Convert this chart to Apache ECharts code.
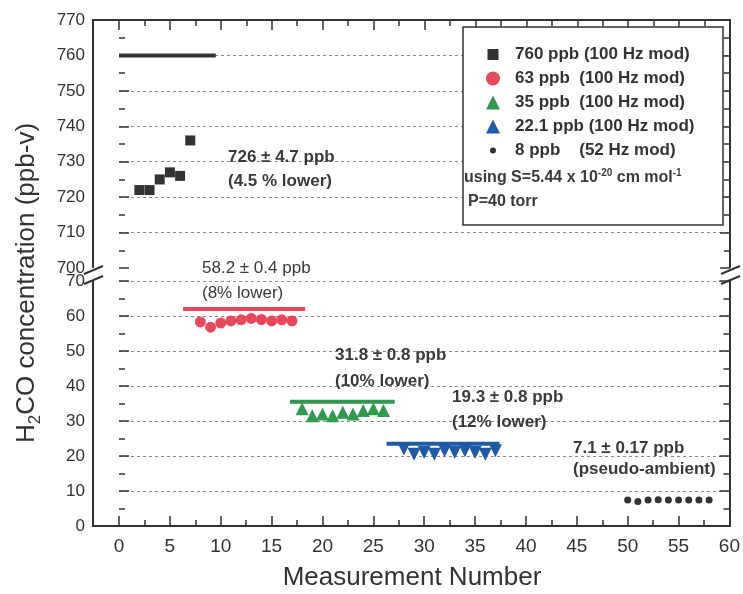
<!DOCTYPE html>
<html lang="en">
<head>
<meta charset="UTF-8">
<title>H2CO concentration</title>
<script src="https://cdnjs.cloudflare.com/ajax/libs/echarts/6.0.0/echarts.min.js"></script>
</head>
<body style="margin:0;background:#fff">
<div id="chart" style="width:743px;height:594px;"></div>
<script>
// measurement number / concentration for each calibration run
var x760 = [2, 3, 4, 5, 6, 7]
var y760 = [722, 722, 725, 727, 726, 736]
var x63 = [8, 9, 10, 11, 12, 13, 14, 15, 16, 17]
var y63 = [58.3, 56.8, 58.0, 58.6, 58.9, 59.3, 59.0, 58.6, 58.9, 58.6]
var x35 = [18, 19, 20, 21, 22, 23, 24, 25, 26]
var y35 = [33.5, 31.5, 32, 31.5, 32.5, 32, 33, 33.5, 33]
var x22 = [28, 29, 30, 31, 32, 33, 34, 35, 36, 37]
var y22 = [22, 20.5, 21, 20.5, 21.5, 21, 21.5, 21, 20.5, 21.5]
var x8 = [50, 51, 52, 53, 54, 55, 56, 57, 58]
var y8 = [7.4, 7.0, 7.4, 7.5, 7.4, 7.4, 7.4, 7.4, 7.4]
// nominal (expected) levels drawn as thick lines
var refStart = [0, 6.3, 16.8, 26.3]
var refEnd = [9.5, 18.3, 27.1, 37.4]
var refLevel = [760, 62, 35.5, 23.5]
var seriesNames = ['760 ppb (100 Hz mod)', '63 ppb  (100 Hz mod)', '35 ppb  (100 Hz mod)', '22.1 ppb (100 Hz mod)', '8 ppb    (52 Hz mod)']

var chart = echarts.init(document.getElementById('chart'))

function zip(xs, ys) {
    return xs.map(function (x, i) { return [x, ys[i]] })
}

var ink = '#333'
var cRed = '#e8485c', cGreen = '#2f9a4c', cBlue = '#1e5aa6'

var tickCommon = {
    axisLine: { show: false },
    axisTick: { show: true, inside: true, length: 10, lineStyle: { color: ink, width: 1.5 } },
    minorTick: { show: true, splitNumber: 2, length: 6, lineStyle: { color: ink, width: 1.5 } }
}

function yAx(grid, pos, min, max, labels) {
    return Object.assign({
        type: 'value', gridIndex: grid, position: pos, min: min, max: max, interval: 10,
        offset: pos === 'left' ? 26 : 0,
        axisLabel: { show: labels, fontSize: 17, color: ink, margin: 8, fontFamily: 'Liberation Sans' },
        splitLine: {
            show: labels, showMinLine: false, showMaxLine: grid === 1,
            lineStyle: { color: '#8a8a8a', type: [3, 3], width: 1 }
        }
    }, tickCommon)
}

function xAx(grid, pos, labels) {
    return Object.assign({
        type: 'value', gridIndex: grid, position: pos, min: 0, max: 60, interval: 5,
        axisLabel: { show: labels, fontSize: 19, color: ink, margin: 11, fontFamily: 'Liberation Sans' },
        splitLine: { show: false }
    }, tickCommon)
}

function refLine(i, color, xi, yi) {
    return {
        type: 'line', xAxisIndex: xi, yAxisIndex: yi, symbol: 'none', silent: true, z: 3,
        data: [[refStart[i], refLevel[i]], [refEnd[i], refLevel[i]]],
        lineStyle: { color: color, width: 4 }
    }
}

function txt(x, y, s, bold, size) {
    return {
        type: 'text', x: x, y: y, z: 10,
        style: {
            text: s, fill: '#3a3a3a', verticalAlign: 'middle',
            font: (bold ? 'bold ' : '') + (size || 17) + 'px "Liberation Sans"'
        }
    }
}

function seg(points) {
    return { type: 'polyline', z: 10, shape: { points: points }, style: { stroke: ink, lineWidth: 2, fill: null } }
}

var option = {
    animation: false,
    grid: [
        { left: 119, right: 13, top: 20, height: 248 },
        { left: 119, right: 13, top: 281, height: 245 }
    ],
    xAxis: [xAx(0, 'top', false), xAx(1, 'bottom', true)],
    yAxis: [
        yAx(0, 'left', 700, 770, true), yAx(0, 'right', 700, 770, false),
        yAx(1, 'left', 0, 70, true), yAx(1, 'right', 0, 70, false)
    ],
    legend: {
        orient: 'vertical', left: 481, top: 41, z: 6,
        itemWidth: 14, itemHeight: 14, itemGap: 7, selectedMode: false,
        textStyle: { fontSize: 17, fontWeight: 'bold', color: ink, lineHeight: 17, padding: [0, 0, 0, 10], fontFamily: 'Liberation Sans' },
        data: [
            { name: seriesNames[0], icon: 'path://M0,0M14,14M1.5,1.5L12.5,1.5L12.5,12.5L1.5,12.5Z' },
            { name: seriesNames[1], icon: 'circle' },
            { name: seriesNames[2] },
            { name: seriesNames[3] },
            { name: seriesNames[4], icon: 'path://M0,0M14,14M4,7A3,3 0 1,0 10,7A3,3 0 1,0 4,7Z' }
        ]
    },
    series: [
        { name: seriesNames[0], type: 'scatter', xAxisIndex: 0, yAxisIndex: 0, symbol: 'rect', symbolSize: 10,
          itemStyle: { color: ink, opacity: 1 }, data: zip(x760, y760) },
        { name: seriesNames[1], type: 'scatter', xAxisIndex: 1, yAxisIndex: 2, symbol: 'circle', symbolSize: 11,
          itemStyle: { color: cRed, opacity: 1 }, data: zip(x63, y63) },
        { name: seriesNames[2], type: 'scatter', xAxisIndex: 1, yAxisIndex: 2, symbol: 'triangle', symbolSize: 13,
          itemStyle: { color: cGreen, opacity: 1 }, data: zip(x35, y35) },
        { name: seriesNames[3], type: 'scatter', xAxisIndex: 1, yAxisIndex: 2, symbol: 'triangle', symbolRotate: 180, symbolSize: 13,
          itemStyle: { color: cBlue, opacity: 1 }, data: zip(x22, y22) },
        { name: seriesNames[4], type: 'scatter', xAxisIndex: 1, yAxisIndex: 2, symbol: 'circle', symbolSize: 7,
          itemStyle: { color: ink, opacity: 1 }, data: zip(x8, y8) },
        refLine(0, ink, 0, 0),
        refLine(1, cRed, 1, 2),
        refLine(2, cGreen, 1, 2),
        refLine(3, cBlue, 1, 2)
    ],
    graphic: [
        // plot frame with the axis break
        seg([[93, 268], [93, 20], [730, 20], [730, 268]]),
        seg([[93, 281], [93, 526], [730, 526], [730, 281]]),
        seg([[84, 274], [103, 266]]), seg([[84, 284], [103, 276]]),
        seg([[721, 274], [740, 266]]), seg([[721, 284], [740, 276]]),
        // legend box
        { type: 'rect', z: 3, shape: { x: 463, y: 27, width: 260, height: 198 },
          style: { fill: '#fff', stroke: ink, lineWidth: 1.5 } },
        {
            type: 'text', x: 464, y: 178, z: 10,
            style: {
                text: '{a|using S=5.44 x 10}{s|-20}{a| cm mol}{s|-1}', verticalAlign: 'middle',
                rich: {
                    a: { fontSize: 16, fontWeight: 'bold', fill: '#3a3a3a', lineHeight: 20, fontFamily: 'Liberation Sans' },
                    s: { fontSize: 10, fontWeight: 'bold', fill: '#3a3a3a', verticalAlign: 'top', lineHeight: 10, fontFamily: 'Liberation Sans' }
                }
            }
        },
        txt(468, 202, 'P=40 torr', true, 16),
        // annotations
        txt(228, 157, '726 ± 4.7 ppb', true),
        txt(228, 181, '(4.5 % lower)', true),
        txt(202, 268, '58.2 ± 0.4 ppb', false),
        txt(202, 293, '(8% lower)', false),
        txt(335, 355, '31.8 ± 0.8 ppb', true),
        txt(335, 381, '(10% lower)', true),
        txt(452, 397, '19.3 ± 0.8 ppb', true),
        txt(452, 422, '(12% lower)', true),
        txt(573, 448, '7.1 ± 0.17 ppb', true),
        txt(573, 469, '(pseudo-ambient)', true),
        // axis titles
        {
            type: 'text', x: 412, y: 578, z: 10,
            style: { text: 'Measurement Number', fill: ink, align: 'center', verticalAlign: 'middle', font: '26px "Liberation Sans"' }
        },
        {
            type: 'text', x: 27, y: 283, z: 10, rotation: Math.PI / 2,
            style: {
                text: '{a|H}{s|2}{a|CO concentration (ppb-v)}', align: 'center', verticalAlign: 'middle',
                rich: {
                    a: { fontSize: 26, fill: ink, lineHeight: 34, fontFamily: 'Liberation Sans' },
                    s: { fontSize: 17, fill: ink, lineHeight: 17, verticalAlign: 'bottom', fontFamily: 'Liberation Sans' }
                }
            }
        }
    ]
}
chart.setOption(option)
</script>
</body>
</html>
